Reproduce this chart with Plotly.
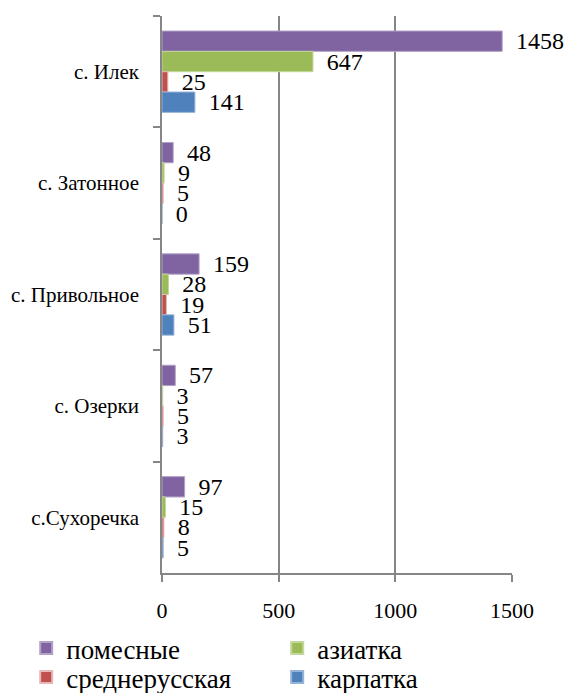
import plotly.graph_objects as go

categories = ["с. Илек", "с. Затонное", "с. Привольное", "с. Озерки", "с.Сухоречка"]
series_names = ["помесные", "азиатка", "среднерусская", "карпатка"]
pomesnye = [1458, 48, 159, 57, 97]
aziatka = [647, 9, 28, 3, 15]
srednerusskaya = [25, 5, 19, 5, 8]
karpatka = [141, 0, 51, 3, 5]
x_ticks = [0, 500, 1000, 1500]

series_values = [pomesnye, aziatka, srednerusskaya, karpatka]
colors = ["#8064A2", "#9BBB59", "#C0504D", "#4F81BD"]
edge_colors = ["#B3A2C7", "#C3D69B", "#E6B9B8", "#95B3D7"]
legend_ids = ["legend", "legend", "legend2", "legend2"]

FONT = "Liberation Serif"

fig = go.Figure()
for name, vals, c, ec, lg in zip(series_names, series_values, colors, edge_colors, legend_ids):
    fig.add_trace(go.Bar(
        y=categories, x=vals, name=name, orientation="h",
        marker=dict(color=c, line=dict(color=ec, width=1)),
        text=["\u00a0\u2009" + str(v) for v in vals],
        textposition="outside", constraintext="none", cliponaxis=False,
        textfont=dict(family=FONT, size=24, color="#000000"),
        hoverinfo="x+y", legend=lg,
    ))

legend_common = dict(
    orientation="h", xref="paper", yref="paper",
    x=-0.388, xanchor="left", yanchor="top",
    font=dict(family=FONT, size=27, color="#000000"),
    entrywidth=206, entrywidthmode="pixels",
    traceorder="normal", itemsizing="constant",
    bgcolor="rgba(0,0,0,0)", borderwidth=0,
)

fig.update_layout(
    template="none",
    width=568, height=693,
    margin=dict(l=162, r=56, t=16, b=120, autoexpand=False),
    paper_bgcolor="white", plot_bgcolor="white",
    barmode="group", bargap=0.27, bargroupgap=0,
    font=dict(family=FONT, color="#000000"),
    showlegend=True,
    legend=dict(legend_common, y=-0.0916),
    legend2=dict(legend_common, y=-0.1436),
)
fig.update_xaxes(
    range=[0, 1500], tickvals=x_ticks, ticktext=[str(t) for t in x_ticks],
    showgrid=True, gridcolor="#868686", gridwidth=1.5,
    showline=True, linecolor="#868686", linewidth=1.5,
    ticks="outside", ticklen=7, tickcolor="#868686", tickwidth=1.5,
    tickfont=dict(family=FONT, size=22, color="#000000"),
    ticklabelstandoff=10, zeroline=False, automargin=False,
)
fig.update_yaxes(
    autorange="reversed", categoryorder="array", categoryarray=categories,
    showgrid=False, showline=True, linecolor="#868686", linewidth=1.5,
    ticks="outside", ticklen=7, tickcolor="#868686", tickwidth=1.5,
    tickson="boundaries", zeroline=False, automargin=False,
    tickfont=dict(family=FONT, size=21, color="#000000"),
    ticklabelstandoff=17,
)

fig.write_html(
    "out.html",
    config={"displayModeBar": False},
    post_script="document.body.style.margin='0';document.body.style.overflow='hidden';",
)
